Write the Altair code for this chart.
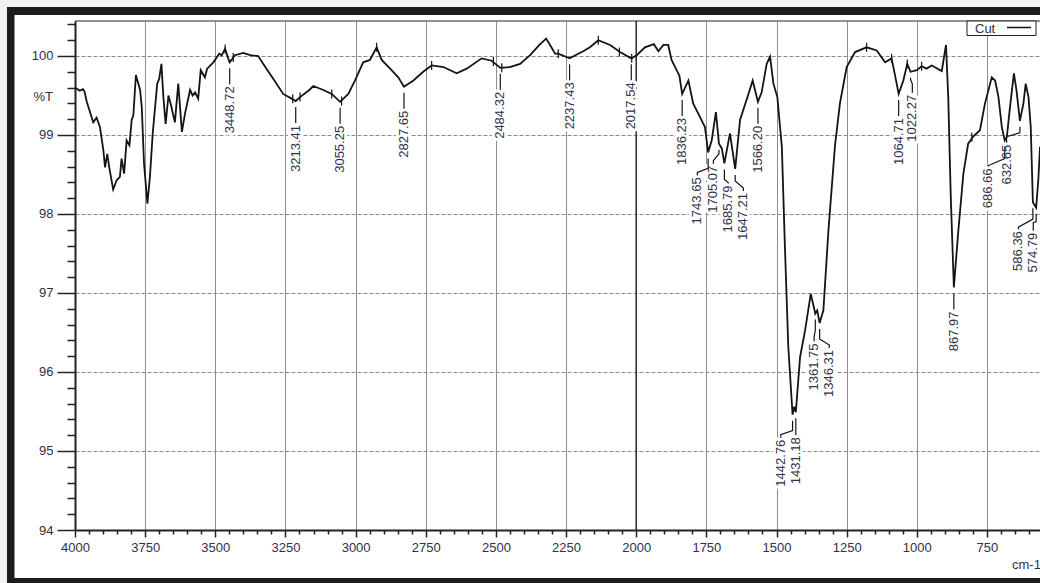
import altair as alt
import pandas as pd

# ---------------------------------------------------------------- spectrum
wavenumber = [
    4000, 3983, 3972, 3966, 3958, 3935, 3923, 3911, 3899, 3893, 3885, 3878, 3864,
    3851, 3840, 3834, 3825, 3816, 3806, 3798, 3792, 3783, 3768, 3762, 3754, 3742,
    3733, 3723, 3707, 3700, 3692, 3685, 3677, 3667, 3658, 3644, 3632, 3619, 3608,
    3590, 3581, 3572, 3561, 3552, 3537, 3529, 3507, 3486, 3477, 3465, 3454, 3448.72,
    3430, 3400, 3376, 3347, 3329, 3293, 3258, 3228, 3213.41, 3198, 3165, 3151, 3115,
    3085, 3055.25, 3026, 3002, 2973, 2949, 2925, 2907, 2877, 2848, 2827.65, 2794,
    2759, 2729, 2687, 2640, 2604, 2551, 2515, 2484.32, 2450, 2414, 2378, 2345, 2321,
    2307, 2289, 2278, 2237.43, 2189, 2165, 2135, 2093, 2058, 2017.54, 1998, 1969,
    1937, 1921, 1903, 1886, 1874, 1856, 1846, 1836.23, 1814, 1797, 1773, 1755,
    1743.65, 1731, 1716, 1705.07, 1695, 1685.79, 1666, 1647.21, 1630, 1600, 1585,
    1566.20, 1553, 1535, 1523, 1511, 1497, 1481, 1470, 1458, 1442.76, 1437, 1431.18,
    1416, 1398, 1378, 1361.75, 1355, 1346.31, 1333, 1315, 1292, 1274, 1250, 1220,
    1179, 1143, 1113, 1090, 1079, 1064.71, 1048, 1034, 1022.27, 1000, 983, 965, 947,
    911, 896, 888, 879, 867.97, 852, 834, 817, 799, 775, 757, 733, 721, 709, 697,
    686.66, 679, 668, 654, 645, 632.65, 620, 612, 602, 594, 586.36, 574.79, 567, 561,
]
transmittance = [
    99.60, 99.56, 99.58, 99.55, 99.42, 99.16, 99.22, 99.10, 98.81, 98.59, 98.76, 98.59, 98.31,
    98.43, 98.47, 98.70, 98.51, 98.93, 98.87, 99.19, 99.25, 99.76, 99.57, 99.35, 98.64, 98.13,
    98.47, 99.02, 99.65, 99.71, 99.90, 99.48, 99.14, 99.50, 99.38, 99.16, 99.65, 99.04, 99.27,
    99.57, 99.50, 99.54, 99.46, 99.82, 99.73, 99.84, 99.92, 100.03, 100.01, 100.09, 99.97, 99.92,
    100.01, 100.04, 100.01, 100.00, 99.90, 99.71, 99.52, 99.46, 99.43, 99.48, 99.57, 99.62, 99.57,
    99.52, 99.42, 99.52, 99.69, 99.92, 99.95, 100.11, 99.95, 99.84, 99.73, 99.61, 99.69,
    99.80, 99.88, 99.86, 99.78, 99.84, 99.97, 99.94, 99.85, 99.86, 99.90, 100.01, 100.14, 100.22,
    100.14, 100.03, 100.03, 99.97, 100.06, 100.11, 100.20, 100.14, 100.05, 99.97, 100.01, 100.11,
    100.15, 100.06, 100.14, 100.14, 99.95, 99.82, 99.75, 99.52, 99.69, 99.40, 99.23, 99.10,
    98.78, 98.93, 99.29, 98.89, 98.83, 98.64, 99.02, 98.57, 99.19, 99.52, 99.69,
    99.42, 99.54, 99.90, 99.99, 99.65, 99.48, 98.85, 97.58, 96.32, 95.46, 95.56, 95.49,
    96.19, 96.53, 96.99, 96.74, 96.78, 96.62, 96.78, 97.79, 98.85, 99.40, 99.86, 100.05,
    100.11, 100.07, 99.92, 99.97, 99.78, 99.52, 99.69, 99.90, 99.80, 99.82, 99.87, 99.84, 99.88,
    99.81, 100.14, 99.48, 98.22, 97.07, 97.79, 98.51, 98.89, 98.98, 99.06, 99.40, 99.73, 99.69, 99.48, 99.10,
    98.93, 98.98, 99.35, 99.78, 99.57, 99.18, 99.40, 99.65, 99.48, 99.10, 98.15, 98.08, 98.43, 98.85,
]

# ---------------------------------------------------------------- picked peaks
peak_text = [
    "3448.72", "3213.41", "3055.25", "2827.65", "2484.32", "2237.43", "2017.54",
    "1836.23", "1743.65", "1705.07", "1685.79", "1647.21", "1566.20", "1442.76",
    "1431.18", "1361.75", "1346.31", "1064.71", "1022.27", "867.97", "686.66",
    "632.65", "586.36", "574.79",
]
peak_transmittance = [
    99.92, 99.43, 99.42, 99.61, 99.85, 99.97, 99.97,
    99.52, 98.78, 98.89, 98.64, 98.57, 99.42, 95.46,
    95.49, 96.74, 96.62, 99.52, 99.80, 97.07, 98.93,
    99.18, 98.15, 98.08,
]

# small pick-range markers sitting on the trace
marker_wavenumber = [3465, 3436, 3224, 3198, 3085, 3050, 2925, 2729, 2509, 2479,
                     2278, 2135, 2060, 2016, 1179, 1090, 1034, 983, 804]
marker_transmittance = [100.09, 99.98, 99.46, 99.48, 99.52, 99.43, 100.11, 99.88, 99.93, 99.85,
                        100.03, 100.20, 100.05, 99.97, 100.11, 99.97, 99.90, 99.87, 98.97]

# ---------------------------------------------------------------- layout
W, H = 965, 509                 # plot area in pixels
T_MIN, T_MAX = 94.0, 100.443
W_HI, W_LO = 4000, 561
PPT = H / (T_MAX - T_MIN)       # pixels per %T unit

FONT = "Liberation Sans"
INK = "#30304a"
LINE = "#141414"

# label placement: text x (cm-1), drop to text top (px), leader bend points (px)
label_layout = {
    "1743.65": (1782, 25, 16, 20),
    "1705.07": (1725, 22, 10, 17),
    "1685.79": (1672, 22, 16, 19),
    "1647.21": (1618, 24, 12, 19),
    "1442.76": (1485, 25, 16, 20),
    "1431.18": (None, 25, 0, 0),
    "1361.75": (1366, 30, 17, 23),
    "1346.31": (1312, 27, 16, 22),
    "1022.27": (1016, 23, 8, 12),
    "686.66": (745, 28, 18, 25),
    "632.65": (680, 24, 12, 16),
    "586.36": (638, 29, 17, 25),
    "574.79": (585, 25, 14, 15),
}

spec = pd.DataFrame({"w": wavenumber, "t": transmittance})

text_rows, lead_rows = [], []
for i, (txt, t) in enumerate(zip(peak_text, peak_transmittance)):
    w = float(txt)
    lx, drop, b, d = label_layout.get(txt, (None, 24, 0, 0))
    down = lambda off: t - off / PPT
    if lx is None:
        lx = w
        pts = [(w, down(6)), (w, down(drop - 2))]
    else:
        pts = [(w, down(6)), (w, down(b)), (lx, down(d)), (lx, down(drop - 2))]
    text_rows.append({"w": lx, "t": down(drop), "label": txt})
    for k, (pw, pt) in enumerate(pts):
        lead_rows.append({"id": i, "seq": k, "w": pw, "t": pt})

labels = pd.DataFrame(text_rows)
leaders = pd.DataFrame(lead_rows)
markers = pd.DataFrame({
    "w": marker_wavenumber,
    "t": [v + 4.5 / PPT for v in marker_transmittance],
    "t2": [v - 4.5 / PPT for v in marker_transmittance],
})

# ---------------------------------------------------------------- scales & axes
major_x = "datum.value % 250 === 0"
major_y = "abs(datum.value - round(datum.value)) < 0.001"

x_axis = alt.Axis(
    values=list(range(4000, 560, -50)),
    labelExpr=f"{major_x} ? format(datum.value, 'd') : ''",
    title=None,
    domainColor="#222222", domainWidth=2,
    tickColor="#222222", tickWidth=1.5,
    tickSize={"condition": {"test": major_x, "value": 7}, "value": 4},
    grid=True, gridColor="#8e8e8e", gridWidth=1,
    gridOpacity={"condition": {"test": major_x, "value": 1}, "value": 0},
    labelFont=FONT, labelFontSize=13, labelColor=INK, labelPadding=4,
    labelFlush=False, labelOverlap=False, labelAngle=0,
)
y_axis = alt.Axis(
    values=[round(94 + 0.2 * k, 1) for k in range(33)],
    labelExpr=f"{major_y} ? format(datum.value, 'd') : ''",
    title=None,
    domainColor="#222222", domainWidth=2,
    tickColor="#222222", tickWidth=1.5,
    tickSize={"condition": {"test": major_y, "value": 18}, "value": 8},
    grid=True, gridColor="#8a8a8a", gridWidth=1, gridDash=[4, 2],
    gridOpacity={"condition": {"test": major_y, "value": 1}, "value": 0},
    labelFont=FONT, labelFontSize=13, labelColor=INK, labelPadding=4,
    labelOverlap=False,
)
xs = alt.Scale(domain=[W_HI, W_LO], nice=False, zero=False)
ys = alt.Scale(domain=[T_MIN, T_MAX], nice=False, zero=False)
X = alt.X("w:Q", scale=xs, axis=x_axis)
Y = alt.Y("t:Q", scale=ys, axis=y_axis)

one = pd.DataFrame({"k": [0]})


def box(x0, x1, y0, y1, **mk):
    return alt.Chart(one).mark_rect(**mk).encode(
        x=alt.value(x0), x2=alt.value(x1), y=alt.value(y0), y2=alt.value(y1))


# ---------------------------------------------------------------- layers
trace = alt.Chart(spec).mark_line(color=LINE, strokeWidth=1.8, clip=True).encode(
    x=X, y=Y, order=alt.Order("w:Q", sort="descending"))

ref_2000 = alt.Chart(pd.DataFrame({"w": [2000]})).mark_rule(
    color="#2b2b2b", strokeWidth=1.5).encode(x=X, y=alt.value(0), y2=alt.value(H))

halo = alt.Chart(labels).mark_text(
    angle=270, align="right", baseline="middle", font=FONT, fontSize=13,
    fill="white", stroke="white", strokeWidth=6, strokeJoin="round",
).encode(x=X, y=Y, text="label:N")

label_text = alt.Chart(labels).mark_text(
    angle=270, align="right", baseline="middle", font=FONT, fontSize=13, color=INK,
).encode(x=X, y=Y, text="label:N")

lead = alt.Chart(leaders).mark_line(color=LINE, strokeWidth=1.2).encode(
    x=X, y=Y, detail="id:N", order="seq:Q")

ticks = alt.Chart(markers).mark_rule(color=LINE, strokeWidth=1.2).encode(
    x=X, y=Y, y2="t2:Q")

# frame around the page
frame = [
    box(-75, W, -21, -14, color="#f2f2f2"),
    box(-75, -68, -21, H + 53, color="#f2f2f2"),
    box(-68, W, -14, -6, color="#1c1c1c"),
    box(-68, -60.5, -14, H + 53, color="#1c1c1c"),
    box(-68, W, H + 48, H + 53, color="#1c1c1c"),
]

top_border = alt.Chart(one).mark_rule(color="#222222", strokeWidth=1.2).encode(
    x=alt.value(0), x2=alt.value(W), y=alt.value(0))

pct_t = alt.Chart(one).mark_text(
    align="right", baseline="middle", font=FONT, fontSize=13, color=INK,
).encode(x=alt.value(-22), y=alt.value(76), text=alt.value("%T"))

unit = alt.Chart(one).mark_text(
    align="left", baseline="middle", font=FONT, fontSize=13, color=INK,
).encode(x=alt.value(937), y=alt.value(544), text=alt.value("cm-1"))

# legend
legend_box = box(892, 961, 0, 14.5, fill="white", stroke="#222222", strokeWidth=1)
legend_text = alt.Chart(one).mark_text(
    align="left", baseline="middle", font=FONT, fontSize=13, color=INK,
).encode(x=alt.value(900), y=alt.value(7.5), text=alt.value("Cut"))
legend_line = alt.Chart(one).mark_rule(color=LINE, strokeWidth=1.5).encode(
    x=alt.value(932), x2=alt.value(956), y=alt.value(6.5))

chart = alt.layer(
    trace.encode(opacity=alt.value(0)),   # carries the axes first
    *frame,
    ref_2000,
    halo,
    lead,
    trace,
    ticks,
    label_text,
    top_border,
    pct_t,
    unit,
    legend_box,
    legend_text,
    legend_line,
).properties(
    width=W, height=H,
    autosize=alt.AutoSizeParams(type="none"),
    padding={"left": 75, "top": 21, "right": 0, "bottom": 53},
    background="white",
).configure_view(stroke=None)

chart.save("out.html", embed_options={"renderer": "svg", "actions": False})
